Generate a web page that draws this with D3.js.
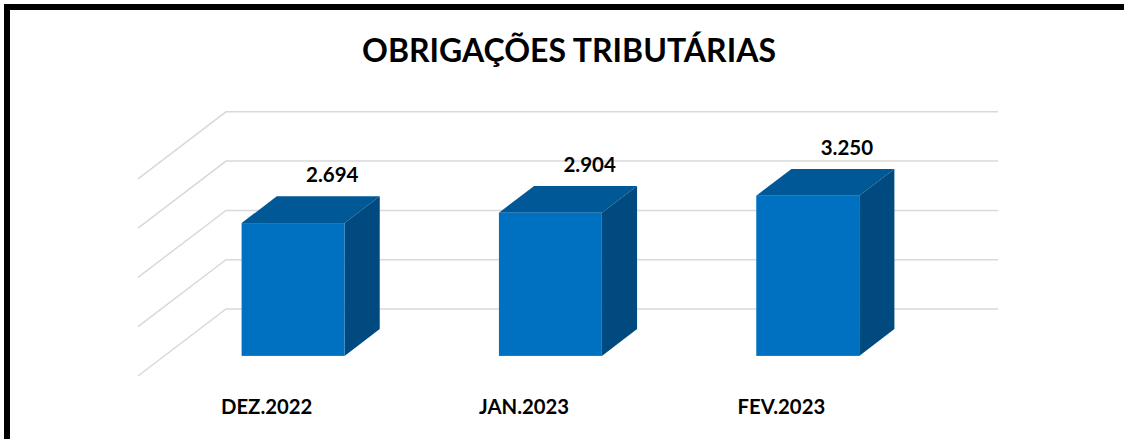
<!DOCTYPE html>
<html>
<head>
<meta charset="utf-8">
<script src="https://cdn.jsdelivr.net/npm/d3@7"></script>
<style>
  html, body { margin: 0; padding: 0; background: #fff; }
  svg { display: block; }
</style>
</head>
<body>
<div id="chart"></div>
<script>
// data
const chartTitle = "OBRIGAÇÕES TRIBUTÁRIAS";
const categories = ["DEZ.2022", "JAN.2023", "FEV.2023"];
const values = [2694, 2904, 3250];
const valueLabels = ["2.694", "2.904", "3.250"];
const yTicks = [0, 1000, 2000, 3000, 4000];

const W = 1124, H = 439;
const font = "Lato, 'Open Sans', sans-serif";

// 3d-ish frame: front plane base and depth offset
const baseY = 376;
const depthX = 88, depthY = 67;
const barT0 = 0.3, barT1 = 0.7; // bar depth range (0 = front, 1 = back wall)

const svg = d3.select("#chart")
    .append("svg")
    .attr("width", W)
    .attr("height", H);

svg.append("rect").attr("width", W).attr("height", H).attr("fill", "#fff");

const x = d3.scaleBand()
    .domain(categories)
    .range([138, 910])
    .paddingInner(0.6)
    .paddingOuter(0.3);

const y = d3.scaleLinear()
    .domain([0, 4000])
    .range([0, 197.2]);

// project (front x, value, depth) to screen
function proj(px, v, t) {
    return [px + depthX * t, baseY - y(v) - depthY * t];
}

// gridlines on back wall + side wall
const grid = svg.append("g").attr("class", "grid");
const xLeft = x.range()[0], xRight = x.range()[1];

grid.selectAll("path")
    .data(yTicks)
    .enter()
    .append("path")
    .attr("d", d => {
        const a = proj(xLeft, d, 0);
        const b = proj(xLeft, d, 1);
        const c = proj(xRight, d, 1);
        return `M${a[0]},${a[1]}L${b[0]},${b[1]}L${c[0]},${c[1]}`;
    })
    .attr("fill", "none")
    .attr("stroke", "#d9d9d9")
    .attr("stroke-width", 1.5);

// bars
const bars = svg.append("g").attr("class", "bars")
    .selectAll("g")
    .data(categories.map((c, i) => ({label: c, value: values[i], text: valueLabels[i]})))
    .enter()
    .append("g");

const pts = (arr) => arr.map(p => p.join(",")).join(" ");

// top face
bars.append("polygon")
    .attr("points", d => {
        const x0 = x(d.label), x1 = x0 + x.bandwidth();
        return pts([proj(x0, d.value, barT0), proj(x0, d.value, barT1), proj(x1, d.value, barT1), proj(x1, d.value, barT0)]);
    })
    .attr("fill", "#005896");

// side face
bars.append("polygon")
    .attr("points", d => {
        const x1 = x(d.label) + x.bandwidth();
        return pts([proj(x1, 0, barT0), proj(x1, d.value, barT0), proj(x1, d.value, barT1), proj(x1, 0, barT1)]);
    })
    .attr("fill", "#004a7f");

// front face
bars.append("rect")
    .attr("x", d => proj(x(d.label), 0, barT0)[0])
    .attr("y", d => proj(0, d.value, barT0)[1])
    .attr("width", x.bandwidth())
    .attr("height", d => y(d.value))
    .attr("fill", "#0070c0");

// value labels
bars.append("text")
    .attr("x", d => proj(x(d.label) + x.bandwidth() / 2, d.value, barT1)[0] + 4)
    .attr("y", d => proj(0, d.value, barT1)[1] - 14)
    .attr("text-anchor", "middle")
    .style("font-family", font)
    .style("font-weight", "bold")
    .style("font-size", "20.5px")
    .style("fill", "#000")
    .text(d => d.text);

// category labels
svg.append("g")
    .selectAll("text")
    .data(categories)
    .enter()
    .append("text")
    .attr("x", d => x(d) + x.bandwidth() / 2)
    .attr("y", 414)
    .attr("text-anchor", "middle")
    .style("font-family", font)
    .style("font-weight", "bold")
    .style("font-size", "20.3px")
    .style("fill", "#000")
    .text(d => d);

// title
svg.append("text")
    .attr("x", 569)
    .attr("y", 62)
    .attr("text-anchor", "middle")
    .style("font-family", font)
    .style("font-weight", "bold")
    .style("font-size", "32px")
    .style("fill", "#000")
    .text(chartTitle);

// frame (top + left only visible)
svg.append("path")
    .attr("d", `M7,${H}L7,7L${W},7`)
    .attr("fill", "none")
    .attr("stroke", "#000")
    .attr("stroke-width", 6)
    .attr("stroke-linecap", "square");
</script>
</body>
</html>
